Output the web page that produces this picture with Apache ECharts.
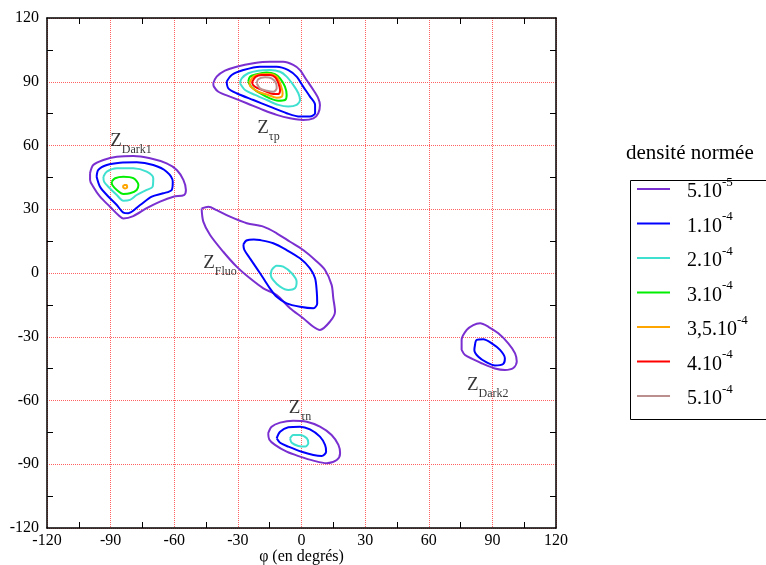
<!DOCTYPE html>
<html><head><meta charset="utf-8">
<script src="https://cdn.jsdelivr.net/npm/echarts@6/dist/echarts.min.js"></script>
<style>html,body{margin:0;padding:0;background:#fff}#c{width:766px;height:565px}</style>
</head><body><div id="c"></div>
<script>
// ---- axes ----
const axisMin = -120, axisMax = 120, axisStep = 30;

// ---- density levels (legend) ----
const levelNames = ['5.10^-5','1.10^-4','2.10^-4','3.10^-4','3,5.10^-4','4.10^-4','5.10^-4'];
const levelColors = ['#7a2fd0','#0000ff','#40e0d0','#00ee00','#ffa500','#ff0000','#bc8f8f'];

// ---- contour loops [phi, tau] ----
// Z_tau_p region
const tauP_L0 = [[-41.6,89.3],[-40.0,92.4],[-36.1,95.2],[-30.6,97.1],[-22.7,98.7],[-14.9,99.4],[-8.6,99.4],[-3.9,97.9],[-0.7,95.5],[2.4,90.8],[5.6,86.1],[7.9,82.2],[8.7,79.1],[7.9,75.2],[5.6,72.8],[0.8,72.0],[-5.4,72.8],[-11.7,74.4],[-18.0,76.7],[-25.8,79.9],[-33.7,83.0],[-39.2,85.3],[-41.3,87.7]];
const tauP_L1 = [[-35.3,90.0],[-32.9,93.2],[-27.4,95.5],[-19.6,97.1],[-11.7,97.1],[-6.2,95.5],[-2.3,92.4],[0.8,87.7],[4.0,83.0],[6.4,79.1],[6.4,75.2],[4.0,73.6],[-0.7,73.6],[-7.0,75.2],[-14.9,78.3],[-22.7,81.4],[-30.6,84.6],[-34.5,86.9]];
const tauP_L2 = [[-29.0,89.3],[-28.2,91.6],[-25.1,94.0],[-20.4,95.2],[-14.9,95.5],[-10.1,94.7],[-7.0,92.4],[-3.9,88.5],[-1.5,84.6],[-0.7,81.4],[-2.3,79.1],[-6.2,78.3],[-10.9,79.1],[-16.4,81.4],[-21.9,83.8],[-26.6,86.1]];
const tauP_L3 = [[-25.1,90.0],[-24.3,92.4],[-21.1,93.6],[-16.4,94.3],[-12.5,93.6],[-10.1,91.6],[-7.8,87.7],[-7.0,83.8],[-7.8,81.4],[-10.9,81.1],[-14.9,82.2],[-19.6,84.6],[-23.5,87.4]];
const tauP_L4 = [[-24.6,89.3],[-22.7,92.4],[-18.8,93.5],[-14.9,93.6],[-11.7,92.4],[-10.1,89.3],[-8.9,84.6],[-9.3,83.0],[-11.7,82.5],[-15.7,83.8],[-20.4,85.3],[-24.0,87.7]];
const tauP_L5 = [[-23.3,89.8],[-21.7,92.3],[-18.8,93.2],[-14.9,93.2],[-12.3,92.0],[-10.9,89.3],[-10.1,86.0],[-10.8,84.2],[-13.3,84.2],[-17.2,85.6],[-21.0,87.1],[-22.9,88.5]];
const tauP_L6 = [[-21.1,89.3],[-20.4,91.2],[-17.2,92.1],[-14.1,91.6],[-12.0,89.3],[-11.7,86.9],[-13.3,85.3],[-16.4,85.8],[-19.6,86.9]];
// Z_Dark1 region
const dark1_L0 = [[-99.7,46.9],[-98.2,50.8],[-93.4,53.2],[-87.1,54.7],[-79.3,55.1],[-71.4,54.0],[-63.6,51.6],[-58.8,48.5],[-55.7,43.8],[-54.5,39.1],[-55.4,36.7],[-60.4,35.9],[-66.7,33.6],[-73.0,30.5],[-79.3,26.8],[-84.0,25.7],[-86.4,27.3],[-90.3,31.2],[-95.0,35.9],[-98.2,40.6],[-99.7,43.8]];
const dark1_L1 = [[-96.6,45.3],[-95.8,48.5],[-91.8,50.8],[-85.6,51.9],[-77.7,52.1],[-69.9,50.8],[-63.6,47.7],[-60.7,43.0],[-61.2,39.1],[-65.2,37.5],[-70.6,35.9],[-76.1,32.0],[-81.7,28.1],[-84.0,28.4],[-87.1,32.0],[-91.8,36.7],[-95.0,40.6]];
const dark1_L2 = [[-93.4,45.3],[-91.8,47.7],[-87.1,49.3],[-79.3,49.3],[-73.0,47.7],[-69.9,44.6],[-70.2,40.6],[-73.0,39.1],[-77.7,36.7],[-80.9,34.4],[-84.0,34.0],[-87.1,36.7],[-91.1,40.6],[-93.1,43.0]];
const dark1_L3 = [[-89.5,43.0],[-87.9,44.6],[-84.0,45.3],[-79.3,44.6],[-76.9,41.4],[-77.7,39.1],[-80.9,37.5],[-84.0,37.2],[-87.1,39.1],[-89.2,41.4]];
const dark1_L4 = [[-83.9,41.4],[-82.6,41.4],[-82.2,40.3],[-83.2,39.8],[-84.1,40.5]];
// Z_Fluo region
const fluo_L0 = [[-47.1,30.4],[-43.9,31.2],[-40.0,29.6],[-33.7,26.5],[-25.8,23.4],[-18.0,21.8],[-11.7,18.7],[-5.4,14.7],[0.8,10.8],[6.4,6.1],[11.1,1.4],[14.2,-5.6],[15.0,-11.9],[15.8,-18.2],[13.4,-22.9],[8.7,-26.8],[5.6,-25.3],[0.8,-21.3],[-5.4,-16.6],[-11.7,-10.4],[-18.0,-7.2],[-24.3,-2.5],[-30.6,3.0],[-36.9,10.0],[-43.1,17.9],[-46.3,24.2]];
const fluo_L1 = [[-27.4,13.4],[-26.0,15.3],[-22.5,15.8],[-19.6,15.5],[-13.3,14.0],[-7.0,10.8],[-0.7,6.9],[4.0,2.2],[6.4,-2.5],[7.2,-8.8],[7.4,-14.3],[5.6,-16.6],[-0.7,-15.9],[-7.0,-14.3],[-11.7,-11.2],[-14.9,-7.2],[-18.0,-2.5],[-21.1,2.2],[-24.3,6.9],[-27.0,11.0]];
const fluo_L2 = [[-14.1,1.4],[-11.7,3.4],[-8.6,3.0],[-4.6,-0.1],[-2.3,-4.1],[-3.1,-7.2],[-6.2,-8.0],[-10.1,-6.4],[-13.3,-3.3],[-14.5,-0.9]];
// Z_Dark2 region
const dark2_L0 = [[75.5,-36.2],[75.5,-31.5],[77.9,-26.8],[81.0,-24.5],[84.2,-23.7],[88.1,-25.3],[92.8,-28.4],[97.5,-33.1],[100.7,-37.8],[101.5,-41.7],[99.9,-44.7],[95.9,-45.6],[91.2,-44.9],[85.7,-42.8],[81.0,-40.6],[77.1,-38.6]];
const dark2_L1 = [[81.8,-33.9],[82.6,-31.5],[85.7,-31.2],[89.7,-33.1],[93.6,-36.2],[95.9,-40.1],[95.1,-42.8],[91.2,-43.5],[87.3,-42.1],[83.4,-39.4],[81.5,-36.2]];
// Z_tau_n region
const tauN_L0 = [[-15.7,-75.4],[-14.1,-72.3],[-10.1,-70.4],[-3.9,-69.5],[2.5,-70.0],[8.7,-72.3],[14.2,-76.2],[17.4,-80.9],[18.2,-84.8],[16.6,-88.0],[11.9,-89.5],[5.6,-88.3],[-0.7,-86.4],[-7.0,-84.1],[-12.5,-80.9],[-15.2,-78.3]];
const tauN_L1 = [[-11.7,-77.8],[-10.1,-74.7],[-6.2,-72.6],[-0.7,-72.3],[4.0,-73.6],[8.7,-77.0],[11.1,-80.9],[11.6,-84.1],[9.5,-86.1],[5.6,-85.6],[0.1,-84.1],[-6.2,-81.7],[-10.1,-79.9]];
const tauN_L2 = [[-5.4,-77.8],[-3.9,-76.2],[-0.7,-76.2],[2.5,-77.8],[3.2,-80.1],[1.7,-81.7],[-1.5,-81.4],[-4.6,-79.9]];

const contours = [
  [0,tauP_L0],[1,tauP_L1],[2,tauP_L2],[3,tauP_L3],[4,tauP_L4],[5,tauP_L5],[6,tauP_L6],
  [0,dark1_L0],[1,dark1_L1],[2,dark1_L2],[3,dark1_L3],[4,dark1_L4],
  [0,fluo_L0],[1,fluo_L1],[2,fluo_L2],
  [0,dark2_L0],[1,dark2_L1],
  [0,tauN_L0],[1,tauN_L1],[2,tauN_L2]
];

// ---- region labels ----
const regionSub = ['τp','Dark1','Fluo','Dark2','τn'];
const regionPhi = [-15.6,-80.4,-38.4,87.8,-0.7];
const regionTau = [67.0,60.9,3.3,-54.0,-64.8];

const FONT = 'Liberation Serif, Times New Roman, serif';

const series = contours.map(([lvl, pts]) => ({
  type: 'line',
  name: levelNames[lvl],
  data: pts.concat([pts[0]]),
  symbol: 'none',
  smooth: 0.3,
  silent: true,
  z: 3 + lvl,
  lineStyle: { color: levelColors[lvl], width: 2 },
  itemStyle: { color: levelColors[lvl] }
}));

series.push({
  type: 'scatter',
  name: 'labels',
  symbolSize: 1,
  itemStyle: { color: 'rgba(0,0,0,0)' },
  silent: true,
  z: 20,
  data: regionSub.map((s, i) => ({ name: s, value: [regionPhi[i], regionTau[i]] })),
  label: {
    show: true,
    position: 'inside',
    formatter: p => '{z|Z}{s|' + p.name + '}',
    rich: {
      z: { fontFamily: FONT, fontSize: 19, color: '#000', lineHeight: 24, verticalAlign: 'top' },
      s: { fontFamily: FONT, fontSize: 12, color: '#000', lineHeight: 12, verticalAlign: 'bottom' }
    }
  }
});

function axisCommon(pos, showLabels) {
  return {
    type: 'value', position: pos, min: axisMin, max: axisMax, interval: axisStep,
    axisLine: { show: true, onZero: false, lineStyle: { color: '#000', width: 1.5 } },
    axisTick: { show: true, inside: true, length: 0 },
    minorTick: { show: true, splitNumber: 2, length: 6, lineStyle: { color: '#000', width: 1 } },
    splitLine: { show: showLabels, lineStyle: { color: '#ff6060', type: 'dotted', width: 1 } },
    axisLabel: { show: showLabels, fontFamily: FONT, fontSize: 16, color: '#000' }
  };
}

const xMain = axisCommon('bottom', true);
xMain.axisLabel.margin = 5;
xMain.name = 'φ (en degrés)';
xMain.nameLocation = 'middle';
xMain.nameGap = 21;
xMain.nameMoveOverlap = false;
xMain.nameTextStyle = { fontFamily: FONT, fontSize: 16, color: '#000' };
const yMain = axisCommon('left', true);
yMain.axisLabel.margin = 8;
yMain.name = 'τ (en degrés)';
yMain.nameLocation = 'middle';
yMain.nameGap = 28;
yMain.nameTextStyle = { fontFamily: FONT, fontSize: 16, color: '#000' };

const chart = echarts.init(document.getElementById('c'), null, { renderer: 'canvas' });
chart.setOption({
  animation: false,
  backgroundColor: '#fff',
  grid: { left: 47, right: 210, top: 18, bottom: 37, containLabel: false, outerBoundsMode: 'none' },
  xAxis: [xMain, axisCommon('top', false)],
  yAxis: [yMain, axisCommon('right', false)],
  legend: {
    data: levelNames,
    orient: 'vertical',
    left: 637, top: 176, padding: 0,
    itemGap: 8.5, itemWidth: 33, itemHeight: 2,
    icon: 'rect',
    selectedMode: false,
    formatter: n => { const [m, e] = n.split('^'); return '{m|' + m + '}{e|' + e + '}'; },
    textStyle: {
      padding: [0, 0, 0, 12],
      rich: {
        m: { fontFamily: FONT, fontSize: 20, color: '#000', lineHeight: 26, verticalAlign: 'bottom' },
        e: { fontFamily: FONT, fontSize: 13, color: '#000', lineHeight: 13, verticalAlign: 'top' }
      }
    }
  },
  graphic: [
    { type: 'rect', left: 628, top: 178, shape: { width: 136, height: 239 }, style: { fill: 'none', stroke: '#000', lineWidth: 1 } },
    { type: 'text', left: 626, top: 143, style: { text: 'densité normée', font: '21px ' + FONT, fill: '#000' } }
  ],
  series
});
</script></body></html>
